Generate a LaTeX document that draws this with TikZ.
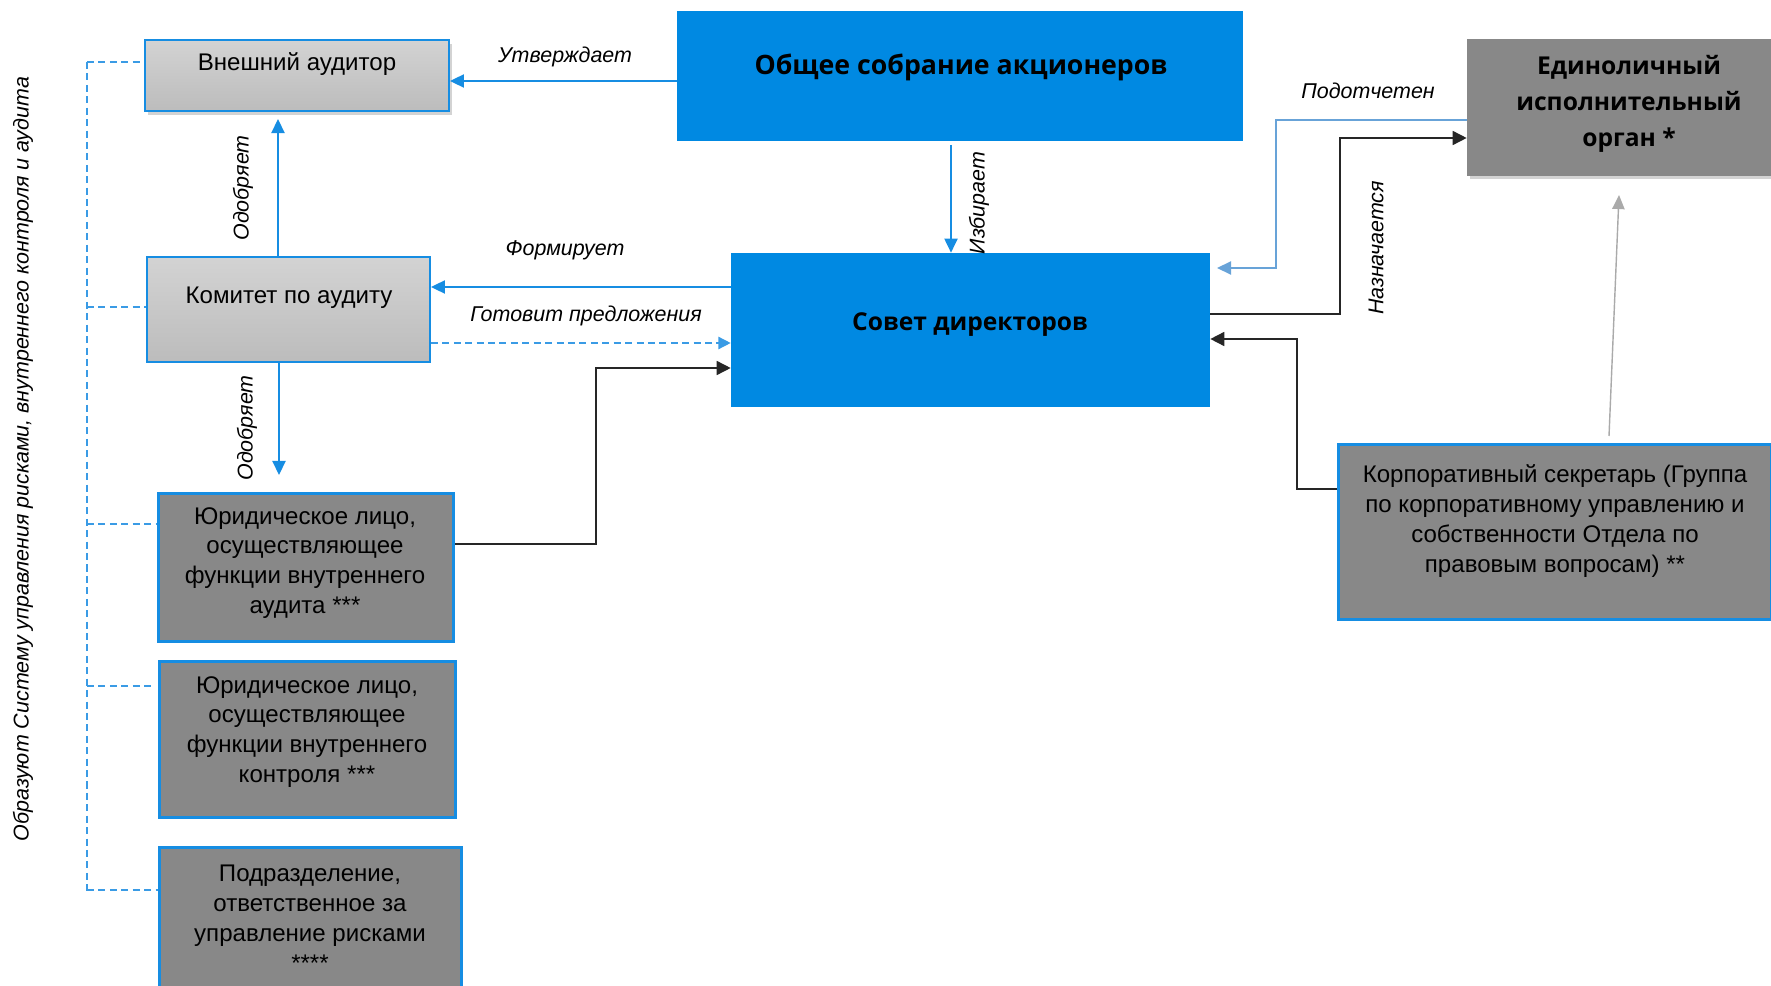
\documentclass[tikz,border=0pt]{standalone}
\usepackage{fontspec}
\setmainfont{Liberation Sans}
\newfontfamily\headfont{Open Sans}
\usetikzlibrary{arrows.meta,shadows}

\definecolor{boxblue}{RGB}{0,137,226}
\definecolor{lineblue}{RGB}{22,141,226}
\definecolor{paleblue}{RGB}{104,163,216}
\definecolor{dashblue}{RGB}{58,155,229}
\definecolor{darkgrey}{RGB}{136,136,136}
\definecolor{greytop}{RGB}{211,211,211}
\definecolor{greybot}{RGB}{188,188,188}
\definecolor{tipgrey}{RGB}{170,170,170}

\begin{document}
\begin{tikzpicture}[x=0.02cm,y=-0.02cm]
	\tikzstyle{none}=[inner sep=0pt]
	\tikzstyle{lightbox}=[draw=lineblue,line width=1.1pt,top color=greytop,bottom color=greybot]
	\tikzstyle{darkbox}=[draw=lineblue,line width=1.7pt,fill=darkgrey]
	\tikzstyle{bluebox}=[fill=boxblue]
	\tikzstyle{boxtext}=[inner sep=0pt,align=center,font=\fontsize{13.7}{17}\selectfont]
	\tikzstyle{headtext}=[inner sep=0pt,align=center,font=\headfont\bfseries\fontsize{14}{20.5}\selectfont]
	\tikzstyle{bighead}=[inner sep=0pt,align=center,font=\headfont\bfseries\fontsize{15.2}{20.5}\selectfont]
	\tikzstyle{verb}=[inner sep=0pt,font=\itshape\fontsize{12.2}{15}\selectfont]
	\tikzstyle{arrowblue}=[-{Triangle[length=8pt,width=7.5pt]},draw=lineblue,line width=0.9pt]
	\tikzstyle{arrowpale}=[-{Triangle[length=8pt,width=7.5pt]},draw=paleblue,line width=0.9pt]
	\tikzstyle{arrowblack}=[-{Triangle[length=8pt,width=8pt]},draw=black!85,line width=0.9pt]
	\tikzstyle{arrowgrey}=[-{Triangle[length=8pt,width=7pt]},draw=tipgrey,line width=0.8pt]
	\tikzstyle{dashline}=[draw=dashblue,line width=0.8pt,dash pattern=on 4pt off 2.5pt]
	\tikzstyle{dasharrow}=[-{Triangle[length=7pt,width=7pt]},draw=dashblue,line width=0.8pt,dash pattern=on 4pt off 2.5pt]

	\clip (0,0) rectangle (1771,986);
	\useasboundingbox (0,0) rectangle (1771,986);

		% boxes
		\node [style=lightbox, drop shadow={shadow xshift=1.5pt, shadow yshift=-2pt, opacity=0.35}, minimum width=6.08cm, minimum height=1.42cm] (ext) at (297, 75.5) {};
		\node [style=lightbox, minimum width=5.66cm, minimum height=2.10cm] (kom) at (288.5, 309.5) {};
		\node [style=bluebox, minimum width=11.32cm, minimum height=2.60cm] (osa) at (960, 76) {};
		\node [style=bluebox, minimum width=9.58cm, minimum height=3.08cm] (sov) at (970.5, 330) {};
		\node [fill=darkgrey, drop shadow={shadow xshift=1.5pt, shadow yshift=-2pt, opacity=0.35}, minimum width=6.48cm, minimum height=2.74cm] (eio) at (1629, 107.5) {};
		\node [style=darkbox, minimum width=8.68cm, minimum height=3.52cm] (kor) at (1555, 532) {};
		\node [style=darkbox, minimum width=5.92cm, minimum height=2.98cm] (ia) at (306, 567.5) {};
		\node [style=darkbox, minimum width=5.94cm, minimum height=3.14cm] (ic) at (307.5, 739.5) {};
		\node [style=darkbox, minimum width=6.06cm, minimum height=3.40cm] (rm) at (310.5, 932) {};

		% box texts
		\node [style=boxtext] (ext-t) at (297, 64) {Внешний аудитор};
		\node [style=boxtext] (kom-t) at (289, 298) {Комитет по аудиту};
		\node [style=bighead] (osa-t) at (961, 67) {Общее собрание акционеров};
		\node [style=headtext] (sov-t) at (970, 325) {Совет директоров};
		\node [style=headtext] (eio-t) at (1629, 104) {Единоличный\\исполнительный\\орган *};
		\node [style=boxtext] (kor-t) at (1555, 521) {Корпоративный секретарь (Группа\\по корпоративному управлению и\\собственности Отдела по\\правовым вопросам) **};
		\node [style=boxtext] (ia-t) at (305, 563) {Юридическое лицо,\\осуществляющее\\функции внутреннего\\аудита ***};
		\node [style=boxtext] (ic-t) at (307, 732) {Юридическое лицо,\\осуществляющее\\функции внутреннего\\контроля ***};
		\node [style=boxtext] (rm-t) at (310, 918) {Подразделение,\\ответственное за\\управление рисками\\****};

		% connector labels
		\node [style=verb] (l1) at (565, 57) {Утверждает};
		\node [style=verb, rotate=90] (l2) at (243, 188) {Одобряет};
		\node [style=verb, rotate=90] (l3) at (247, 428) {Одобряет};
		\node [style=verb, rotate=90] (l4) at (979, 203) {Избирает};
		\node [style=verb] (l5) at (565, 250) {Формирует};
		\node [style=verb] (l6) at (586, 316) {Готовит предложения};
		\node [style=verb] (l7) at (1368, 91) {Подотчетен};
		\node [style=verb, rotate=90] (l8) at (1376, 248) {Назначается};
		\node [style=verb, rotate=90] (l9) at (23, 459) {Образуют Систему управления рисками, внутреннего контроля и аудита};

		% way points
		\node [style=none] (u1) at (560, 81) {};
		\node [style=none] (o1) at (278, 119) {};
		\node [style=none] (o2) at (279, 475) {};
		\node [style=none] (i1) at (951, 145) {};
		\node [style=none] (f1) at (580, 287) {};
		\node [style=none] (f2) at (580, 343) {};
		\node [style=none] (b1) at (596, 544) {};
		\node [style=none] (b2) at (596, 368) {};
		\node [style=none] (b3) at (1340, 314) {};
		\node [style=none] (b4) at (1340, 138) {};
		\node [style=none] (b5) at (1276, 120) {};
		\node [style=none] (b6) at (1276, 268) {};
		\node [style=none] (b7) at (1297, 489) {};
		\node [style=none] (b8) at (1297, 339) {};
		\node [style=none] (b9) at (1217, 268) {};
		\node [style=none] (g1) at (1609, 436) {};
		\node [style=none] (g2) at (1619, 195) {};
		\node [style=none] (d0) at (87, 62) {};
		\node [style=none] (d1) at (87, 307) {};
		\node [style=none] (d2) at (87, 524) {};
		\node [style=none] (d3) at (87, 686) {};
		\node [style=none] (d4) at (87, 890) {};
		\node [style=none] (d5) at (87, 893) {};
		\node [style=none] (e3) at (152, 686) {};

		% connectors
		\draw [style=arrowblue] (osa.west |- u1) to (ext.east |- u1);
		\draw [style=arrowblue] (kom.north -| o1) to (o1.center);
		\draw [style=arrowblue] (kom.south -| o2) to (o2.center);
		\draw [style=arrowblue] (i1.center) to (sov.north -| i1);
		\draw [style=arrowblue] (sov.west |- f1) to (kom.east |- f1);
		\draw [style=dasharrow] (kom.east |- f2) to (sov.west |- f2);
		\draw [style=arrowblack] (ia.east |- b1) -- (b1.center) -- (b2.center) -- (sov.west |- b2);
		\draw [style=arrowblack] (sov.east |- b3) -- (b3.center) -- (b4.center) -- (eio.west |- b4);
		\draw [style=arrowpale] (eio.west |- b5) -- (b5.center) -- (b6.center) -- (b9.center);
		\draw [style=arrowblack] (kor.west |- b7) -- (b7.center) -- (b8.center) -- (sov.east |- b8);
		\draw [style=arrowgrey] (g1.center) to (g2.center);

		\draw [style=dashline] (d0.center) to (d5.center);
		\draw [style=dashline] (d0.center) to (ext.west |- d0);
		\draw [style=dashline] (d1.center) to (kom.west |- d1);
		\draw [style=dashline] (d2.center) to (ia.west |- d2);
		\draw [style=dashline] (d3.center) to (e3.center);
		\draw [style=dashline] (d4.center) to (rm.west |- d4);

\end{tikzpicture}
\end{document}
